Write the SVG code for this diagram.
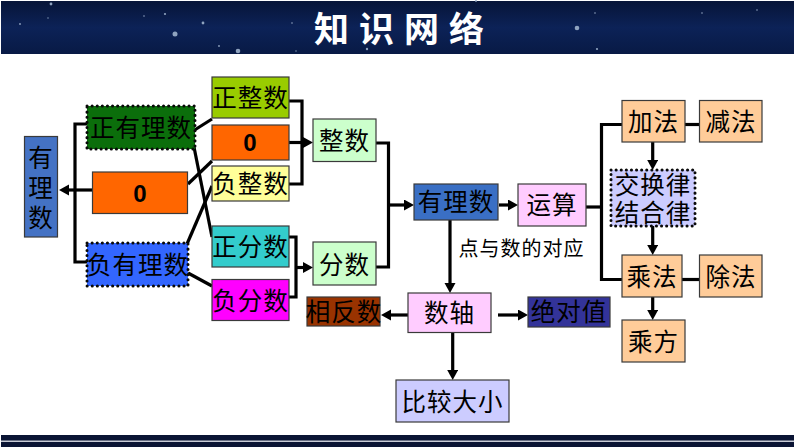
<svg xmlns="http://www.w3.org/2000/svg" width="794" height="447" viewBox="0 0 794 447">
<style>
text{font-family:"Noto Sans CJK SC","Noto Sans",sans-serif;text-anchor:middle;fill:#000}
.t{font-size:24.500px;letter-spacing:1px}
.b{stroke:#3a3a3a;stroke-width:1.2}
.d{stroke:#0a0a0a;stroke-width:3;stroke-dasharray:.1 5;stroke-linecap:round}
.z{font-family:"Liberation Sans",Arial,sans-serif;font-weight:bold;font-size:24px}
#connectors path{fill:none;stroke:#000;stroke-width:3.2}
.a{marker-end:url(#h)}
</style>
<defs>
<linearGradient id="g" x1="0" y1="0" x2="0" y2="1"><stop offset="0" stop-color="#071538"/><stop offset=".5" stop-color="#0c2257"/><stop offset="1" stop-color="#081a45"/></linearGradient>
<marker id="h" markerUnits="userSpaceOnUse" markerWidth="12" markerHeight="12" refX="5" refY="5.500" orient="auto"><path d="M0,0L10,5.500L0,11z" fill="#000"/></marker>
</defs>
<rect width="794" height="447" fill="#fff"/>
<g id="header">
<rect x="1" y="1" width="793" height="53" fill="url(#g)"/>
<g fill="#8fa3bf">
<circle cx="51" cy="4" r="1.400"/><circle cx="175" cy="34" r="2.500"/><circle cx="238" cy="51" r="2.300"/><circle cx="577" cy="28" r="2.300"/><circle cx="203" cy="23" r="1.400"/><circle cx="165" cy="14" r="1.100"/><circle cx="367" cy="49" r="1.200"/><circle cx="597" cy="49" r="1.100"/><circle cx="219" cy="46" r=".9"/><circle cx="20" cy="24" r=".9"/><circle cx="757" cy="10" r=".8"/><circle cx="702" cy="13" r=".8"/><circle cx="595" cy="13" r=".8"/><circle cx="292" cy="23" r=".8"/><circle cx="144" cy="16" r=".8"/><circle cx="48" cy="18" r=".7"/><circle cx="296" cy="51" r=".7"/><circle cx="476" cy="1" r=".9"/>
</g>
<text x="404" y="42" style="font-size:35px;font-weight:bold;fill:#fff;letter-spacing:10px">知识网络</text>
</g>
<g id="footer">
<rect x="1" y="435" width="793" height="12" fill="#0a1434"/>
<rect x="1" y="440.500" width="793" height="1.500" fill="#c8ccd6"/>
</g>
<g id="connectors">
<path d="M87,124H75V262H87"/>
<path class="a" d="M92,190H64"/>
<path d="M193,131L212,119"/>
<path d="M194,147L212,237"/>
<path d="M188,184L212,161"/>
<path d="M187,244L212,186"/>
<path d="M188,273L212,286"/>
<path d="M289,101H302V184H289"/>
<path class="a" d="M289,142.500H308"/>
<path d="M289,237H296V297H289"/>
<path class="a" d="M296,267.500H308"/>
<path d="M376,143H388.500V267H376"/>
<path class="a" d="M388.500,205H409"/>
<path class="a" d="M499,205H513"/>
<path class="a" d="M450,220V288"/>
<path d="M586,207H601.500"/>
<path d="M622,124.500H601.500V279.500H622"/>
<path d="M685,124.500H699.500"/>
<path d="M682,279.500H699.500"/>
<path class="a" d="M652.700,142V165"/>
<path class="a" d="M652.700,226V250"/>
<path class="a" d="M652.700,297V315"/>
<path class="a" d="M408,315H386"/>
<path class="a" d="M498,315H523"/>
<path class="a" d="M452.700,332V375"/>
</g>
<g id="n1"><rect class="b" x="24.500" y="136.500" width="33" height="100.500" fill="#4472c4"/><text class="t"><tspan x="41" y="167">有</tspan><tspan x="41" y="197">理</tspan><tspan x="41" y="227">数</tspan></text></g>
<g id="n2"><rect class="d" x="87" y="106" width="108" height="43" fill="#0b6e0b"/><text class="t" x="141" y="137">正有理数</text></g>
<g id="n3"><rect class="b" x="92.500" y="172" width="95" height="41.500" fill="#ff6600"/><text class="z" x="140" y="202">0</text></g>
<g id="n4"><rect class="d" x="87" y="243" width="101" height="43" fill="#3366ff"/><text class="t" x="138" y="274">负有理数</text></g>
<g id="n5"><rect class="b" x="212" y="77" width="77" height="41" fill="#99cc00"/><text class="t" x="250.500" y="107">正整数</text></g>
<g id="n6"><rect class="b" x="212" y="125" width="77" height="35" fill="#ff6600"/><text class="z" x="250" y="151">0</text></g>
<g id="n7"><rect class="b" x="212" y="166" width="77" height="35" fill="#ffff99"/><text class="t" x="250.500" y="193">负整数</text></g>
<g id="n8"><rect class="b" x="212" y="226" width="77" height="41" fill="#33cccc"/><text class="t" x="250.500" y="256">正分数</text></g>
<g id="n9"><rect class="b" x="212" y="279.500" width="77" height="41" fill="#ff00ff"/><text class="t" x="250.500" y="310">负分数</text></g>
<g id="n10"><rect class="b" x="313" y="119" width="63" height="42.500" fill="#ccffcc"/><text class="t" x="344.500" y="150">整数</text></g>
<g id="n11"><rect class="b" x="313" y="242" width="63" height="43" fill="#ccffcc"/><text class="t" x="344.500" y="274">分数</text></g>
<g id="n12"><rect class="b" x="307" y="297" width="73" height="29" fill="#993300"/><text class="t" x="344" y="321">相反数</text></g>
<g id="n13"><rect class="b" x="414" y="184" width="84" height="36" fill="#3a6fc4"/><text class="t" x="456" y="211">有理数</text></g>
<g id="n14"><rect class="b" x="518" y="184" width="68" height="42" fill="#ffccff"/><text class="t" x="552" y="214">运算</text></g>
<g id="n15"><rect class="b" x="622" y="100.500" width="63" height="41.500" fill="#ffcc99"/><text class="t" x="653.500" y="131">加法</text></g>
<g id="n16"><rect class="b" x="699.500" y="100.500" width="62.500" height="41.500" fill="#ffcc99"/><text class="t" x="731" y="131">减法</text></g>
<g id="n17"><rect class="d" x="611" y="170" width="84" height="56" fill="#ccccff"/><text class="t"><tspan x="653" y="194">交换律</tspan><tspan x="653" y="222">结合律</tspan></text></g>
<g id="n18"><rect class="b" x="622" y="255" width="60" height="42" fill="#ffcc99"/><text class="t" x="652" y="286">乘法</text></g>
<g id="n19"><rect class="b" x="699.500" y="255" width="62.500" height="42" fill="#ffcc99"/><text class="t" x="731" y="286">除法</text></g>
<g id="n20"><rect class="b" x="622" y="320" width="63" height="42" fill="#ffcc99"/><text class="t" x="653.500" y="351">乘方</text></g>
<g id="n21"><rect class="b" x="408" y="293" width="83" height="39.500" fill="#ffccff"/><text class="t" x="449.500" y="322">数轴</text></g>
<g id="n22"><rect class="b" x="528" y="297" width="82" height="30" fill="#333399"/><text class="t" x="569" y="321">绝对值</text></g>
<g id="n23"><rect class="b" x="396" y="380" width="113" height="42" fill="#ccccff"/><text class="t" x="452.500" y="411">比较大小</text></g>
<g id="label"><text x="521.500" y="256" style="font-size:20px;letter-spacing:1px">点与数的对应</text></g>
</svg>
